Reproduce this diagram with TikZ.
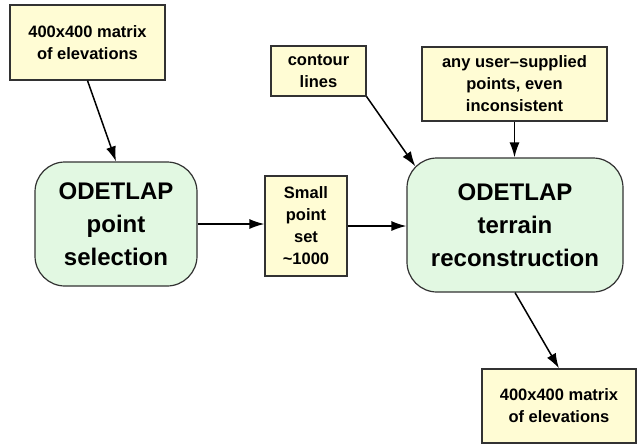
\documentclass[tikz,border=0pt]{standalone}
\usepackage{fontspec}
\setmainfont{Liberation Sans}
\usetikzlibrary{arrows.meta,calc}
\definecolor{boxyellow}{RGB}{255,252,212}
\definecolor{boxgreen}{RGB}{226,248,226}
\definecolor{edgegray}{RGB}{50,50,50}
\begin{document}
\begin{tikzpicture}[x=1pt,y=-1pt,
  note/.style={draw=edgegray,line width=1.2pt,fill=boxyellow,align=center,
    inner sep=0pt,font=\fontsize{16.5pt}{22pt}\selectfont\bfseries},
  proc/.style={draw=edgegray,line width=1.2pt,fill=boxgreen,align=center,
    rounded corners=30pt,inner sep=0pt,font=\fontsize{24pt}{33pt}\selectfont\bfseries},
  flow/.style={line width=1.5pt,-{Latex[length=15pt,width=10pt]}}]
\useasboundingbox (0,0) rectangle (640,445);
\node[note,minimum width=155pt,minimum height=75pt] (A) at (87.5,42.5) {400x400 matrix\\of elevations};
\node[proc,minimum width=162pt,minimum height=124pt] (B) at (116,224) {ODETLAP\\point\\selection};
\node[note,minimum width=82pt,minimum height=100pt] (C) at (306,226) {Small\\point\\set\\\textasciitilde1000};
\node[proc,minimum width=216pt,minimum height=134pt] (D) at (515,225) {ODETLAP\\terrain\\reconstruction};
\node[note,minimum width=95pt,minimum height=50pt] (L) at (318.5,71) {contour\\lines};
\node[note,minimum width=185pt,minimum height=74pt] (U) at (514.5,84) {any user–supplied\\points, even\\inconsistent};
\node[note,minimum width=154pt,minimum height=74pt] (E) at (559,406) {400x400 matrix\\of elevations};
\coordinate (Dcorner) at ($(D.north west)+(9,9)$);
\draw[flow] (A.south) -- (B.north);
\draw[flow] (B.east) -- (B.east -| C.west);
\draw[flow] (C.east) -- (C.east -| D.west);
\draw[flow] (L.south east) -- (Dcorner);
\draw[flow] (U.south) -- (U.south |- D.north);
\draw[flow] (D.south) -- (E.north);
\end{tikzpicture}
\end{document}
